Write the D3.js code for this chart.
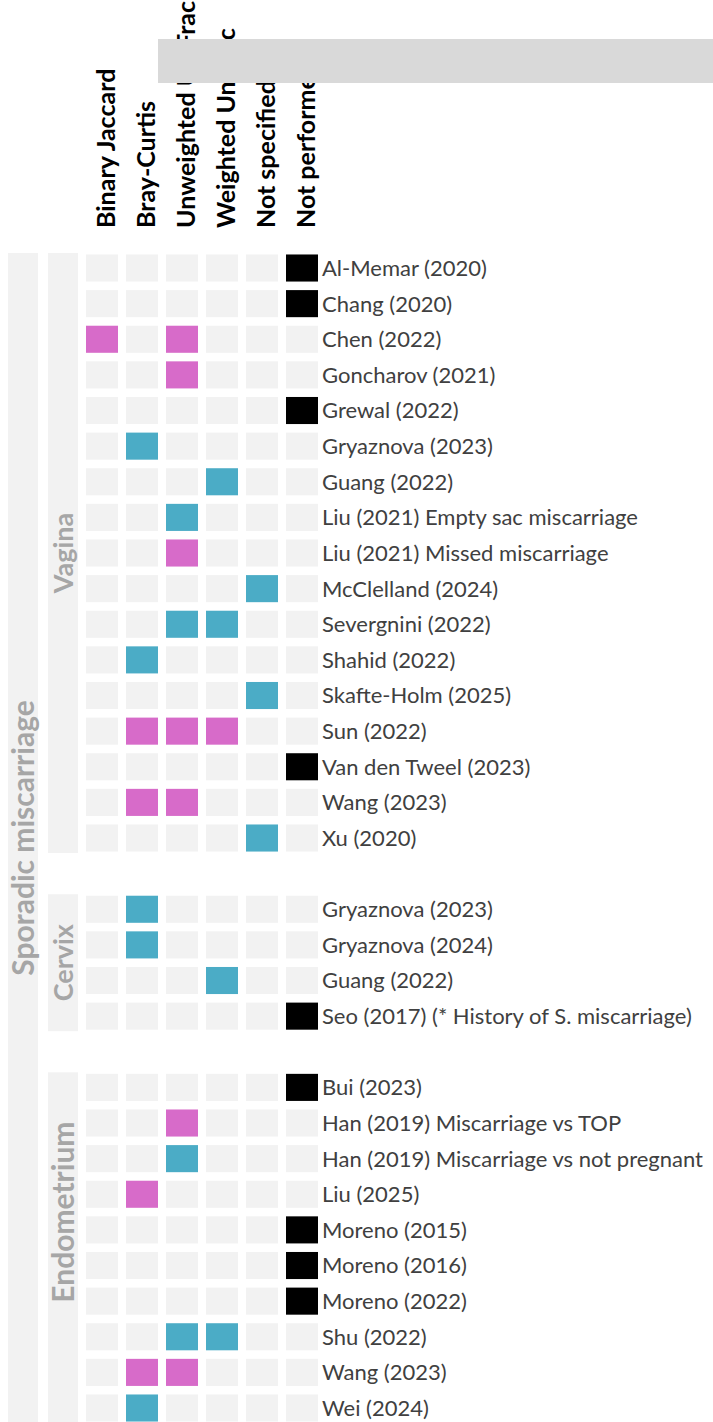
<!DOCTYPE html>
<html>
<head>
<meta charset="utf-8">
<script src="https://cdn.jsdelivr.net/npm/d3@7"></script>
<style>
  body { margin: 0; background: #fff; }
  svg { display: block; font-family: Lato, "Open Sans", sans-serif; }
</style>
</head>
<body>
<svg id="chart" width="713" height="1422"></svg>
<script>
// column headers (beta-diversity metric)
const methods = ['Binary Jaccard', 'Bray-Curtis', 'Unweighted UniFrac', 'Weighted UniFrac', 'Not specified', 'Not performed'];

// 0 = not used, 1 = significant (pink), 2 = not significant (blue), 3 = not performed
const vaginaStudies = ['Al-Memar (2020)', 'Chang (2020)', 'Chen (2022)', 'Goncharov (2021)', 'Grewal (2022)',
  'Gryaznova (2023)', 'Guang (2022)', 'Liu (2021) Empty sac miscarriage', 'Liu (2021) Missed miscarriage',
  'McClelland (2024)', 'Severgnini (2022)', 'Shahid (2022)', 'Skafte-Holm (2025)', 'Sun (2022)',
  'Van den Tweel (2023)', 'Wang (2023)', 'Xu (2020)'];
const vaginaResults = [
  [0, 0, 0, 0, 0, 3], [0, 0, 0, 0, 0, 3], [1, 0, 1, 0, 0, 0], [0, 0, 1, 0, 0, 0], [0, 0, 0, 0, 0, 3],
  [0, 2, 0, 0, 0, 0], [0, 0, 0, 2, 0, 0], [0, 0, 2, 0, 0, 0], [0, 0, 1, 0, 0, 0],
  [0, 0, 0, 0, 2, 0], [0, 0, 2, 2, 0, 0], [0, 2, 0, 0, 0, 0], [0, 0, 0, 0, 2, 0], [0, 1, 1, 1, 0, 0],
  [0, 0, 0, 0, 0, 3], [0, 1, 1, 0, 0, 0], [0, 0, 0, 0, 2, 0]];

const cervixStudies = ['Gryaznova (2023)', 'Gryaznova (2024)', 'Guang (2022)', 'Seo (2017) (* History of S. miscarriage)'];
const cervixResults = [[0, 2, 0, 0, 0, 0], [0, 2, 0, 0, 0, 0], [0, 0, 0, 2, 0, 0], [0, 0, 0, 0, 0, 3]];

const endoStudies = ['Bui (2023)', 'Han (2019) Miscarriage vs TOP', 'Han (2019) Miscarriage vs not pregnant',
  'Liu (2025)', 'Moreno (2015)', 'Moreno (2016)', 'Moreno (2022)', 'Shu (2022)', 'Wang (2023)', 'Wei (2024)'];
const endoResults = [
  [0, 0, 0, 0, 0, 3], [0, 0, 1, 0, 0, 0], [0, 0, 2, 0, 0, 0], [0, 1, 0, 0, 0, 0], [0, 0, 0, 0, 0, 3],
  [0, 0, 0, 0, 0, 3], [0, 0, 0, 0, 0, 3], [0, 0, 2, 2, 0, 0], [0, 1, 1, 0, 0, 0], [0, 2, 0, 0, 0, 0]];

const tissues = ['Vagina', 'Cervix', 'Endometrium'];
const outcome = 'Sporadic miscarriage';

const colors = ['#f2f2f2', '#d76bc9', '#4bacc6', '#000000'];

// flatten into rows, with one blank row between tissues
const groups = [[vaginaStudies, vaginaResults], [cervixStudies, cervixResults], [endoStudies, endoResults]];
const rows = [];
groups.forEach(function(g, gi) {
  if (gi > 0) rows.push(null);
  g[0].forEach(function(name, i) {
    rows.push({ tissue: tissues[gi], study: name, values: g[1][i] });
  });
});

const svg = d3.select('#chart');

const x = d3.scaleBand().domain(methods).range([82, 322]).paddingInner(0.2).paddingOuter(0.1);
const y = d3.scaleBand().domain(d3.range(rows.length)).range([250.2, 250.2 + rows.length * 35.625])
  .paddingInner(0.24).paddingOuter(0.12);
const lvl = d3.scaleBand().domain(['outcome', 'tissue']).range([3, 83]).paddingInner(0.25).paddingOuter(0.125);

// outcome bar
const allIdx = rows.map(function(r, i) { return r ? i : null; }).filter(function(i) { return i !== null; });
const outTop = y(allIdx[0]) - 1.5;
const outBottom = y(allIdx[allIdx.length - 1]) + y.bandwidth() + 1.5;
svg.append('rect').attr('x', lvl('outcome')).attr('y', outTop)
  .attr('width', lvl.bandwidth()).attr('height', outBottom - outTop).attr('fill', '#f2f2f2');
svg.append('text').attr('transform', 'translate(' + (lvl('outcome') + lvl.bandwidth() / 2) + ',' + ((outTop + outBottom) / 2) + ') rotate(-90)')
  .attr('text-anchor', 'middle').attr('dy', '0.36em').attr('fill', '#a6a6a6')
  .attr('font-weight', 'bold').attr('font-size', 30).text(outcome);

// tissue bars
tissues.forEach(function(t) {
  const idx = rows.map(function(r, i) { return r && r.tissue === t ? i : null; }).filter(function(i) { return i !== null; });
  const top = y(idx[0]) - 1.5;
  const bottom = y(idx[idx.length - 1]) + y.bandwidth() + 1.5;
  svg.append('rect').attr('x', lvl('tissue')).attr('y', top)
    .attr('width', lvl.bandwidth()).attr('height', bottom - top).attr('fill', '#f2f2f2');
  let mid = (top + bottom) / 2;
  if (t === 'Endometrium') mid = (y(idx[3]) + y(idx[4])) / 2 + y.bandwidth() / 2;
  svg.append('text').attr('transform', 'translate(' + (lvl('tissue') + lvl.bandwidth() / 2) + ',' + mid + ') rotate(-90)')
    .attr('text-anchor', 'middle').attr('dy', '0.36em').attr('fill', '#a6a6a6')
    .attr('font-weight', 'bold').attr('font-size', t === 'Endometrium' ? 30 : 27).text(t);
});

// cells
const rowG = svg.selectAll('g.row').data(rows.map(function(r, i) { return { r: r, i: i }; }).filter(function(d) { return d.r; }))
  .enter().append('g').attr('class', 'row')
  .attr('transform', function(d) { return 'translate(0,' + y(d.i) + ')'; });

rowG.selectAll('rect').data(function(d) { return d.r.values; }).enter().append('rect')
  .attr('x', function(v, j) { return x(methods[j]); })
  .attr('width', x.bandwidth()).attr('height', y.bandwidth())
  .attr('fill', function(v) { return colors[v]; });

rowG.append('text').attr('x', 322).attr('y', y.bandwidth() / 2).attr('dy', '0.36em')
  .attr('fill', '#404040').attr('font-size', 22).text(function(d) { return d.r.study; });

// column headers
svg.selectAll('text.head').data(methods).enter().append('text').attr('class', 'head')
  .attr('transform', function(d) { return 'translate(' + (x(d) + x.bandwidth() / 2 + 4) + ',228) rotate(-90)'; })
  .attr('text-anchor', 'start').attr('dy', '0.36em').attr('font-weight', 'bold').attr('font-size', 25)
  .attr('fill', '#000').text(function(d) { return d; });

// grey overlay box over the header
svg.append('rect').attr('x', 158).attr('y', 39).attr('width', 555).attr('height', 44).attr('fill', '#d9d9d9');
</script>
</body>
</html>
